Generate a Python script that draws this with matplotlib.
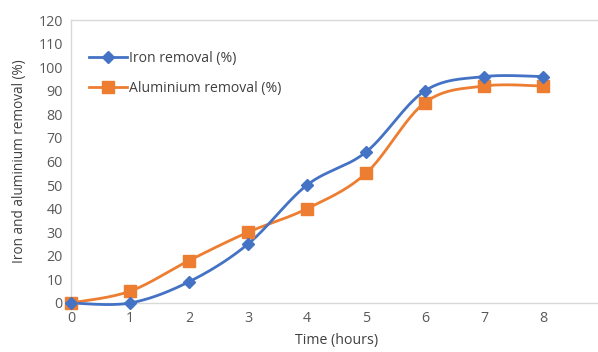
import numpy as np
import matplotlib.pyplot as plt

hours = [0, 1, 2, 3, 4, 5, 6, 7, 8]
iron = [0, 0, 9, 25, 50, 64, 90, 96, 96]
aluminium = [0, 5, 18, 30, 40, 55, 85, 92, 92]

plt.rcParams['font.family'] = ['Open Sans', 'DejaVu Sans']


def smooth(x, y, n=30):
    # Excel-style smoothed line: cubic bezier through points, tangent (P[i+1]-P[i-1])/6
    x = np.asarray(x, float)
    y = np.asarray(y, float)
    px = np.concatenate([[x[0]], x, [x[-1]]])
    py = np.concatenate([[y[0]], y, [y[-1]]])
    xs, ys = [], []
    t = np.linspace(0, 1, n)
    for i in range(1, len(px) - 2):
        p0 = np.array([px[i], py[i]])
        p3 = np.array([px[i + 1], py[i + 1]])
        c1 = p0 + (np.array([px[i + 1], py[i + 1]]) - np.array([px[i - 1], py[i - 1]])) / 6
        c2 = p3 - (np.array([px[i + 2], py[i + 2]]) - np.array([px[i], py[i]])) / 6
        b = ((1 - t) ** 3)[:, None] * p0 + (3 * (1 - t) ** 2 * t)[:, None] * c1 \
            + (3 * (1 - t) * t ** 2)[:, None] * c2 + (t ** 3)[:, None] * p3
        xs.extend(b[:, 0])
        ys.extend(b[:, 1])
    return xs, ys


fig = plt.figure(figsize=(5.98, 3.52), dpi=100)
ax = fig.add_axes([71 / 598, 1 - 303 / 352, 531 / 598, 283 / 352])

blue = '#4472C4'
orange = '#ED7D31'

sx, sy = smooth(hours, iron)
ax.plot(sx, sy, color=blue, lw=2, zorder=3)
ax.plot(hours, iron, ls='none', marker='D', ms=6, color=blue, zorder=4)
sx, sy = smooth(hours, aluminium)
ax.plot(sx, sy, color=orange, lw=2, zorder=2)
ax.plot(hours, aluminium, ls='none', marker='s', ms=9, color=orange, zorder=3)

ax.plot([], [], color=blue, lw=2, marker='D', ms=6, label='Iron removal (%)')
ax.plot([], [], color=orange, lw=2, marker='s', ms=9, label='Aluminium removal (%)')

ax.set_xlim(0, 9)
ax.set_ylim(0, 120)
ax.set_xticks(hours)
ax.set_yticks(range(0, 121, 10))
ax.tick_params(length=0, labelsize=10.3, colors='#595959', pad=6)
for s in ax.spines.values():
    s.set_color('#D9D9D9')
    s.set_linewidth(1)

ax.set_xlabel('Time (hours)', fontsize=10.2, color='#404040', labelpad=5)
ax.set_ylabel('Iron and aluminium removal (%)', fontsize=9.8, color='#404040', labelpad=8)

ax.legend(loc='upper left', bbox_to_anchor=(0.01, 0.935), frameon=False, fontsize=10.1,
          handlelength=2.7, labelspacing=1.05, handletextpad=0.15, labelcolor='#404040')

for line in ax.lines:
    line.set_clip_on(False)

fig.savefig('out.png', dpi=100)
